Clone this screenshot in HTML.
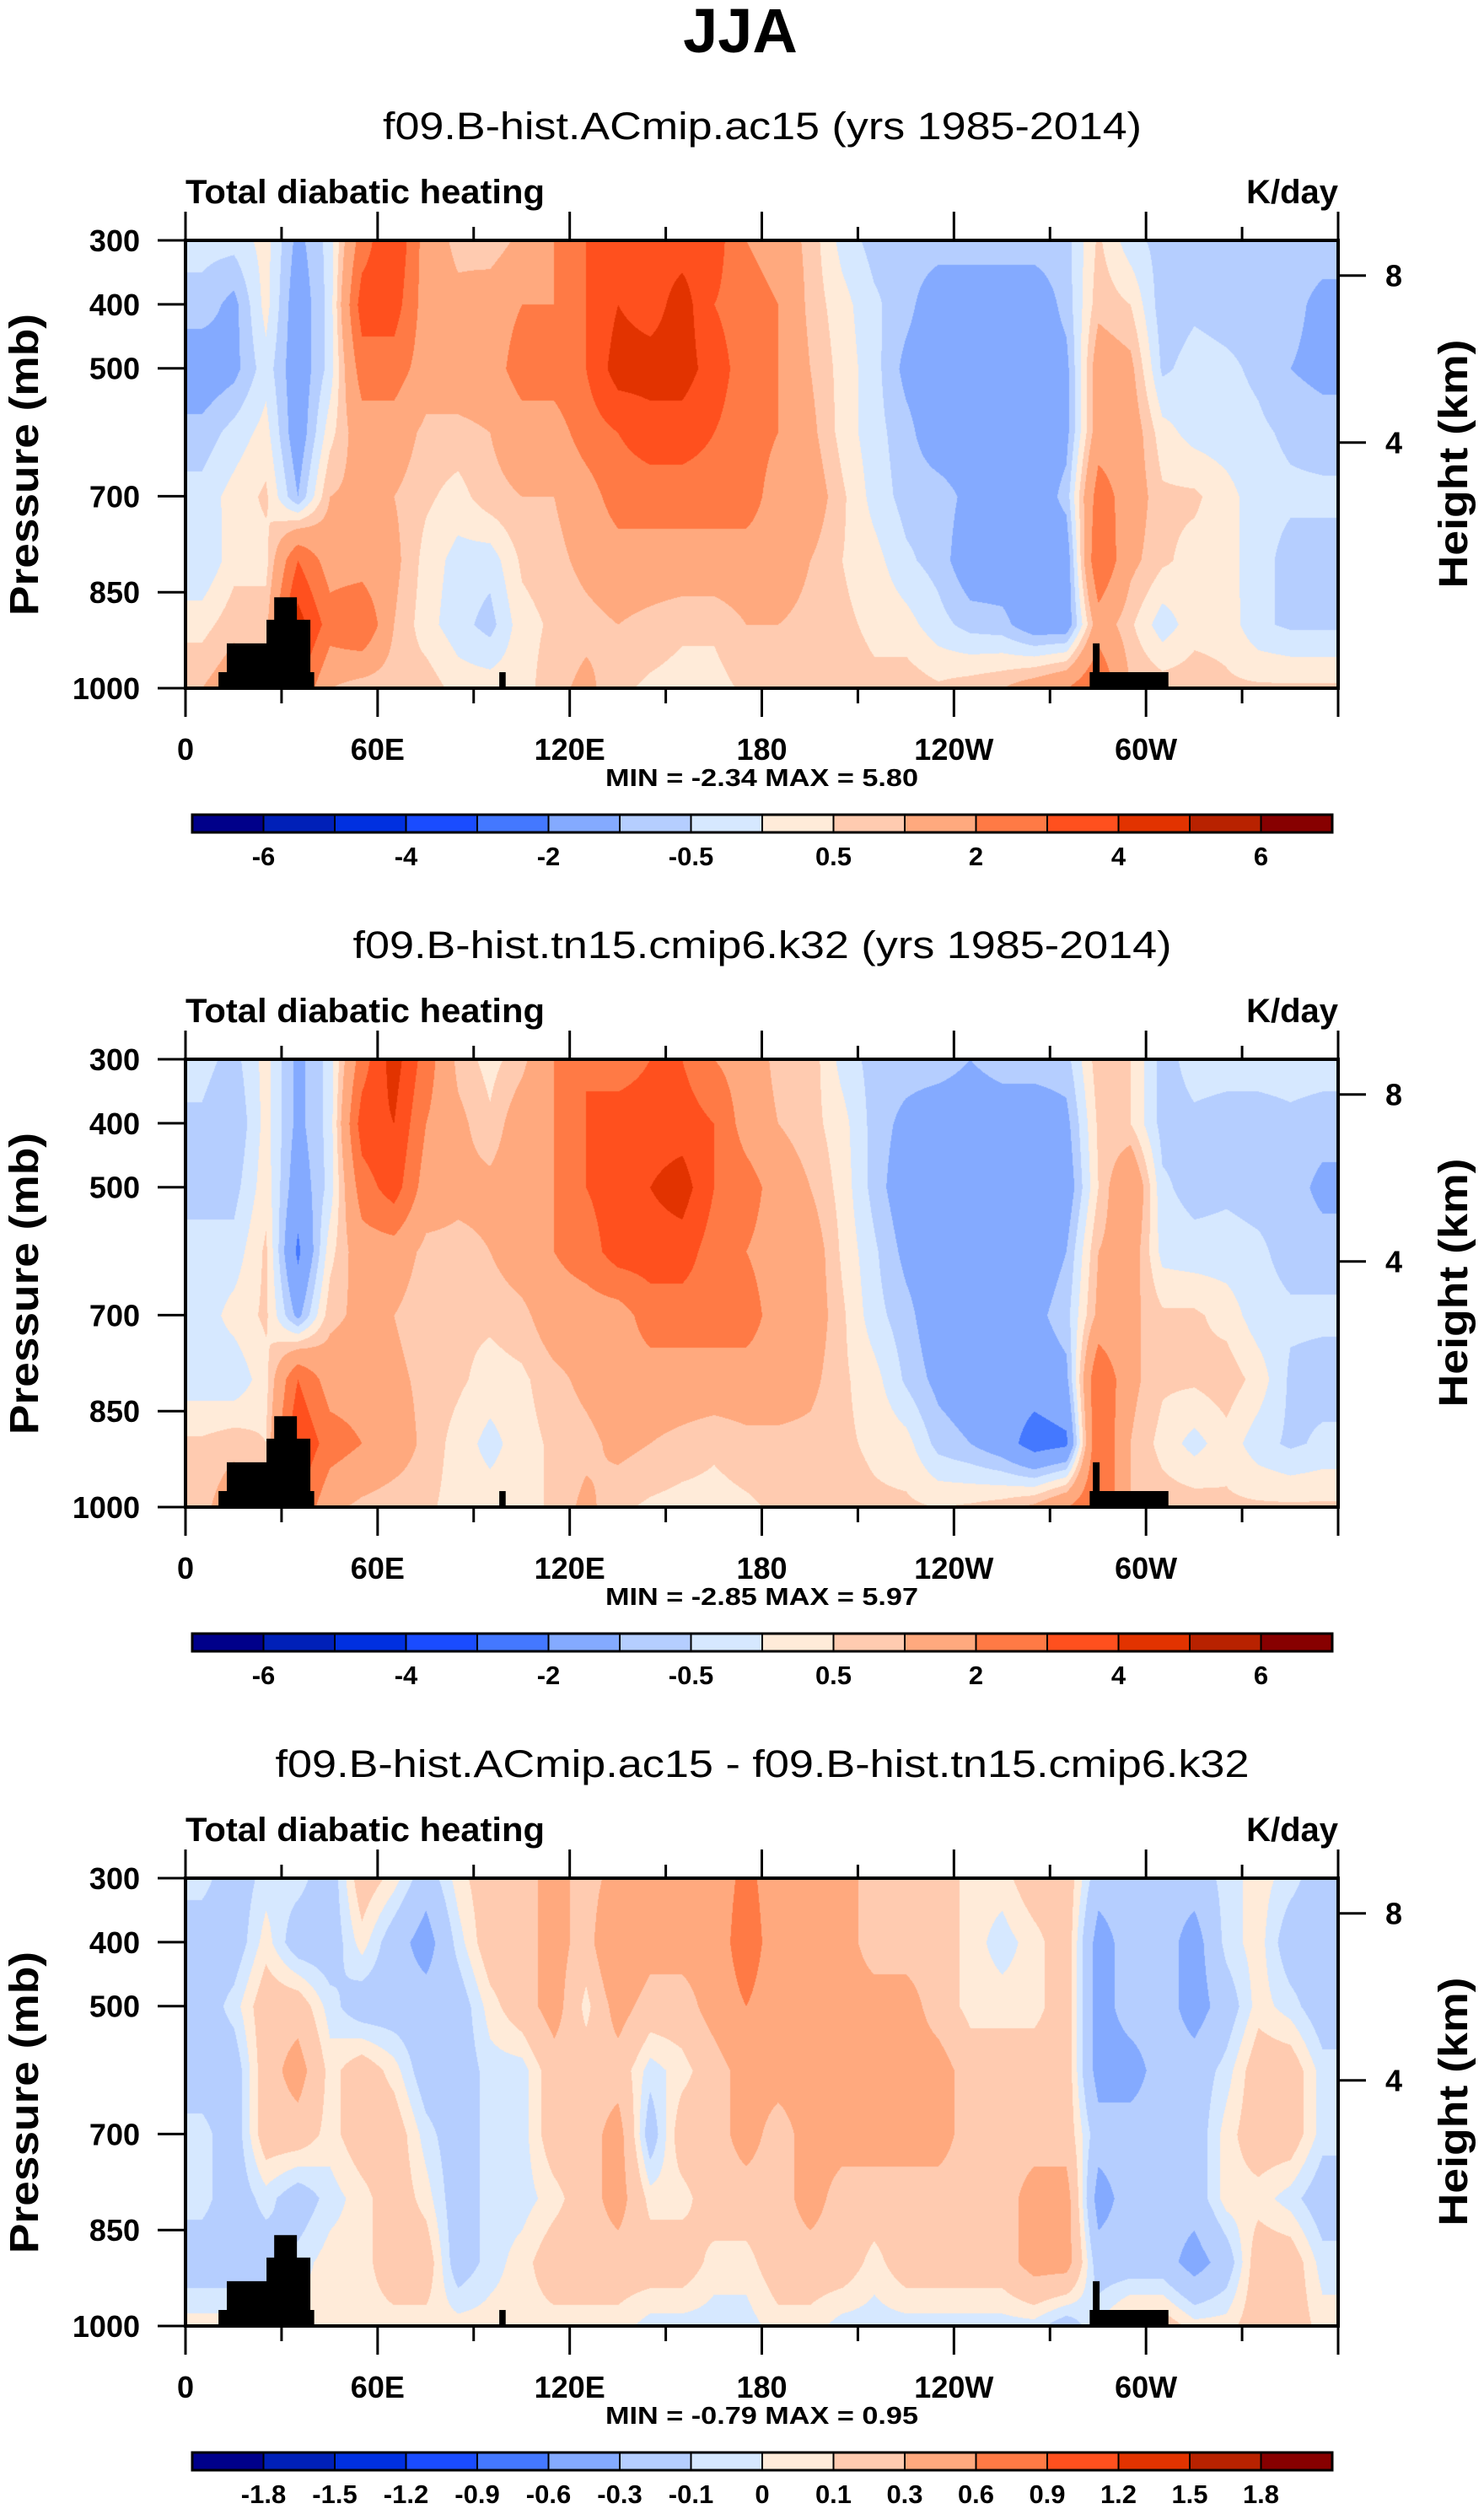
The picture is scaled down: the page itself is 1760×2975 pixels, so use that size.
<!DOCTYPE html>
<html><head><meta charset="utf-8">
<style>
body{margin:0;background:#fff;}
#wrap{position:relative;width:1760px;height:2975px;overflow:hidden;background:#fff;}
canvas{position:absolute;}
svg{position:absolute;left:0;top:0;}
text{font-family:"Liberation Sans",sans-serif;}
</style></head>
<body>
<div id="wrap">
<canvas id="c0" width="1367" height="531" style="left:220px;top:285px"></canvas>
<canvas id="c1" width="1367" height="531" style="left:220px;top:1256px"></canvas>
<canvas id="c2" width="1367" height="531" style="left:220px;top:2227px"></canvas>
<svg id="ov" width="1760" height="2975">
<text x="878" y="62" text-anchor="middle" font-size="74" font-weight="bold">JJA</text>
</svg>
</div>
<script>
// ---- data ----
const lons=[5,15,25,35,45,55,65,75,85,95,105,115,125,135,145,155,165,175,185,195,205,215,225,235,245,255,265,275,285,295,305,315,325,335,345,355];
const levs=[300,400,500,600,700,800,900,1000];
const field1=[
[-0.3,-0.7,-1.5,-0.8,-0.3,-0.5,0.3,1],[-0.3,-1.2,-1.2,-0.3,0.2,0.3,0.8,1.5],[0.2,0.2,-0.2,0.2,0.6,0.3,0.8,1],[-1.2,-1.5,-1.5,-1.5,-1,3,4.5,3],
[-0.3,-0.3,-0.3,0.3,1,1.5,2.5,1],[2.5,3.5,2.5,1.5,1.2,1.5,3,0.6],[4,3.5,2.5,1.5,1,1.2,1,0.6],[1.5,1.5,1.5,0.8,0.6,0.3,0.2,0.8],
[0.8,1.2,1.5,0.8,0.3,-0.2,-0.3,0.3],[0.6,1.5,1.5,1,0.8,-0.3,-0.7,0.3],[1.2,2,2.5,1.5,1,0.6,0.3,0.3],[2,2,2.5,1.5,1,0.8,0.6,0.8],
[3,3,3,2.5,1.5,1.2,0.8,1.2],[3.5,4,4.5,3,2.5,1.5,1,0.6],[3.5,3.5,4.5,3.5,2.5,1.5,0.8,0.4],[3.5,4.5,4.5,3.5,2.5,1.5,0.6,0.3],
[3.5,3,3.5,3,2.5,1.5,0.6,0.3],[2,2.5,2.5,2.5,2.5,1.5,1,0.6],[1.5,2,2,2,1.5,1.5,1,0.6],[0.8,0.8,1,1.2,1.5,1,0.8,0.6],
[-0.2,0.2,0.3,0.3,0.6,0.5,0.6,0.7],[-0.7,-0.4,-0.3,-0.3,-0.2,0.2,0.4,0.6],[-0.7,-0.8,-1.2,-0.8,-0.7,-0.4,0.2,0.8],[-0.7,-1.5,-1.5,-1.5,-0.7,-0.7,-0.3,0.6],
[-0.7,-1.5,-1.5,-1.5,-1.2,-1.5,-0.7,0.8],[-0.7,-1.5,-1.5,-1.5,-1.5,-1.5,-0.8,1],[-0.7,-1.5,-1.5,-1.5,-1.5,-1.5,-1.5,1.5],[-0.7,-0.8,-1.2,-1.2,-0.8,-1.5,-1.5,2],
[0.6,0.8,1.5,1.5,2.5,3,1.5,3],[-0.3,0.5,1.2,1.5,1.5,1.2,0.6,1],[-0.7,-0.8,-0.6,0.2,0.6,0.6,-0.3,0.8],[-0.6,-0.6,-0.3,-0.2,0.6,0.3,0.3,0.8],
[-0.7,-0.7,-0.4,-0.3,0.2,0.2,0.3,0.6],[-0.7,-0.7,-0.6,-0.4,-0.3,-0.3,-0.4,0.6],[-0.7,-0.8,-1,-0.6,-0.4,-0.7,-0.6,0.6],[-0.7,-1.2,-1.2,-0.7,-0.4,-0.7,-0.6,0.6]];
const field2=[
[-0.3,-0.6,-0.7,-0.3,-0.3,-0.3,0.6,0.8],[-0.7,-1,-0.7,-0.3,0.2,-0.4,0.8,1.5],[0.2,0.2,0.3,0.6,0.6,0.3,0.5,1],[-1.2,-1.2,-1.5,-2.2,-1.2,3,4,3],
[-0.3,-0.3,-0.3,0.3,0.8,1.5,2.5,1.2],[2.5,3.5,2.5,1.5,1.2,1.5,2,0.8],[4.5,4,3.5,1.5,1,1.2,1.5,0.6],[2.5,2,1.5,0.8,0.6,0.8,0.8,0.6],
[0.8,1.2,1.2,0.8,0.6,0.6,0.3,0.3],[0.3,0.6,1.2,1,0.6,0.3,-0.2,0.3],[0.8,1.5,1.5,1.5,0.8,0.4,0.3,0.3],[2,2,2,2,1.5,0.8,0.6,0.6],
[3,3,3,2.5,1.5,1.2,0.8,1.2],[2.5,3.5,3.5,3.5,1.5,1.5,1.2,0.6],[3,3.5,4,3.5,2.5,1.5,1,0.4],[3,3.5,4.5,3.5,2.5,1.5,0.8,0.3],
[2,3,3,2.5,2.5,1.5,0.6,0.3],[1.5,1.5,2.5,2,2.5,1.5,0.8,0.4],[0.8,1,1.5,1.5,1.5,1.5,0.8,0.6],[0.8,0.7,1,1.5,1.5,1.2,0.8,0.6],
[-0.2,0.2,0.3,0.4,0.6,0.6,0.6,0.7],[-0.7,-0.7,-0.7,-0.4,-0.3,0.2,0.4,0.6],[-0.7,-1.2,-1.5,-1.2,-0.8,-0.6,0.2,0.6],[-0.7,-1.5,-1.5,-1.5,-1.5,-1.2,-0.7,0.5],
[-1,-1.5,-1.5,-1.5,-1.5,-1.5,-1,0.6],[-0.7,-1.5,-1.5,-1.5,-1.5,-1.5,-1.5,0.8],[-0.7,-1.5,-1.5,-1.5,-1.2,-1.5,-2.5,1.2],[-0.7,-1.2,-1.5,-1,-0.7,-1.2,-2.2,2],
[0.8,0.6,0.5,1,1.2,3,3,3],[0.5,0.5,2,1.5,1.2,1.2,1,1],[-0.7,-0.7,-0.4,-0.2,0.6,0.6,0.3,0.8],[-0.3,-0.6,-0.7,-0.3,0.6,0.6,-0.2,0.8],
[-0.3,-0.7,-0.6,-0.3,0.3,0.8,0.3,0.6],[-0.3,-0.7,-0.7,-0.4,-0.3,0.3,-0.3,0.6],[-0.3,-0.6,-0.7,-0.7,-0.4,-0.6,-0.6,0.6],[-0.3,-0.7,-1.2,-0.7,-0.4,-0.7,-0.4,0.6]];
const field3=[
[-0.05,-0.2,-0.2,-0.2,-0.05,-0.05,-0.2,0.05],[-0.2,-0.2,-0.05,-0.2,-0.2,-0.2,-0.2,0.05],[-0.05,0.05,0.2,0.2,0.2,-0.05,-0.2,0.05],[-0.05,-0.2,0.2,0.4,0.2,-0.2,-0.05,0.05],
[-0.2,-0.2,-0.05,0.05,0.05,-0.05,0.05,0.05],[0.2,0.05,-0.2,0.2,0.2,0.05,0.05,0.05],[0.05,-0.2,-0.2,0.05,0.2,0.2,0.2,0.05],[-0.2,-0.4,-0.2,-0.2,-0.05,0.05,0.2,0.05],
[0.05,-0.05,-0.2,-0.2,-0.2,-0.2,-0.2,0.05],[0.2,0.2,0.05,-0.05,-0.05,-0.05,-0.05,0.05],[0.2,0.2,0.2,-0.05,-0.05,-0.05,0.05,0.05],[0.4,0.4,0.4,0.2,0.2,0.05,0.2,0.05],
[0.2,0.2,0.05,0.2,0.2,0.2,0.2,0.05],[0.4,0.6,0.4,0.2,0.4,0.4,0.2,0.05],[0.4,0.4,0.2,-0.05,-0.2,0.05,0.2,-0.05],[0.4,0.4,0.2,0.05,0.2,0.05,0.2,-0.05],
[0.4,0.4,0.4,0.2,0.2,0.2,0.05,-0.05],[0.7,0.8,0.6,0.4,0.4,0.2,0.05,-0.05],[0.4,0.4,0.4,0.4,0.2,0.2,0.2,0.05],[0.4,0.4,0.4,0.4,0.4,0.4,0.2,0.05],
[0.4,0.4,0.4,0.4,0.4,0.2,0.2,-0.05],[0.2,0.2,0.4,0.4,0.4,0.2,0.05,-0.05],[0.2,0.2,0.4,0.4,0.4,0.2,0.2,-0.05],[0.2,0.2,0.2,0.4,0.4,0.2,0.2,-0.05],
[0.05,0.05,0.05,0.2,0.2,0.2,0.2,-0.05],[0.05,-0.05,0.05,0.2,0.2,0.2,0.2,-0.05],[0.2,0.05,0.05,0.2,0.2,0.4,0.4,-0.05],[0.2,0.2,0.2,0.2,0.2,0.4,0.4,-0.2],
[-0.2,-0.4,-0.4,-0.4,-0.2,-0.4,-0.2,0],[-0.2,-0.2,-0.2,-0.4,-0.2,-0.2,-0.2,0.2],[-0.2,-0.2,-0.2,-0.2,-0.2,-0.2,-0.2,0.2],[-0.2,-0.4,-0.4,-0.2,-0.2,-0.2,-0.4,0.05],
[-0.05,-0.05,-0.2,-0.05,0.05,0.05,-0.2,0.05],[0.05,0.05,0.05,0.2,0.2,0.05,0.2,0.2],[-0.05,-0.2,-0.05,0.2,0.2,-0.05,0.2,0.2],[-0.2,-0.2,-0.2,-0.05,-0.05,-0.2,-0.05,0.05]];
const levels12=[-6,-5,-4,-3,-2,-1,-0.5,0,0.5,1,2,3,4,5,6];
const labels12=["-6","-4","-2","-0.5","0.5","2","4","6"];
const levels3=[-1.8,-1.5,-1.2,-0.9,-0.6,-0.3,-0.1,0,0.1,0.3,0.6,0.9,1.2,1.5,1.8];
const labels3=["-1.8","-1.5","-1.2","-0.9","-0.6","-0.3","-0.1","0","0.1","0.3","0.6","0.9","1.2","1.5","1.8"];
const colors=["#00008a","#0020b8","#0030e0","#1a4cff","#4478ff","#84aaff","#b5ceff","#d6e8ff","#ffebd9","#ffcbb0","#ffa97e","#ff7a45","#ff501e","#e23300","#b82200","#870000"];
const subtitles=["f09.B-hist.ACmip.ac15 (yrs 1985-2014)","f09.B-hist.tn15.cmip6.k32 (yrs 1985-2014)","f09.B-hist.ACmip.ac15 - f09.B-hist.tn15.cmip6.k32"];
const subtitleWidths=[900,971,1155];
const minmax=["MIN =  -2.34  MAX =   5.80","MIN =  -2.85  MAX =   5.97","MIN =  -0.79  MAX =   0.95"];
const lonTicks=[0,60,120,180,240,300];
const lonTickLabels=["0","60E","120E","180","120W","60W"];
const presTicks=[300,400,500,700,850,1000];
const heightTicks=["8","4"];
const heightP=[355,616];
const topoAfrica=[[10.3,1000],[10.3,975],[12.9,975],[12.9,930],[25.3,930],[25.3,893],[27.7,893],[27.7,858],[34.8,858],[34.8,893],[39,893],[39,975],[40.2,975],[40.2,1000]];
const topoSpike=[[98,1000],[98,975],[100,975],[100,1000]];
const topoAndes=[[282.4,1000],[282.4,975],[283.4,975],[283.4,930],[285.5,930],[285.5,975],[307,975],[307,1000]];

const X0=220,W=1367,Y0=285,H=531,OFF=[0,971,1942];
function xs(lon){return X0+lon/360*W;}
function ys(p,o){return Y0+o+(p-300)/700*H;}
function hex(c){return [parseInt(c.substr(1,2),16),parseInt(c.substr(3,2),16),parseInt(c.substr(5,2),16)];}
function sample(f,lon,p){
  let fx=(lon-lons[0])/10; if(fx<0)fx=0; if(fx>lons.length-1)fx=lons.length-1;
  let i=Math.min(Math.floor(fx),lons.length-2),tx=fx-i;
  let fy=(p-levs[0])/100; if(fy<0)fy=0; if(fy>levs.length-1)fy=levs.length-1;
  let j=Math.min(Math.floor(fy),levs.length-2),ty=fy-j;
  const a=f[i][j],b=f[i+1][j],c=f[i][j+1],d=f[i+1][j+1];
  return (a*(1-tx)+b*tx)*(1-ty)+(c*(1-tx)+d*tx)*ty;
}
function drawField(id,f,lv){
  const cv=document.getElementById(id),ctx=cv.getContext('2d');
  const img=ctx.createImageData(W,H),rgb=colors.map(hex);
  for(let y=0;y<H;y++){const p=300+y/H*700;
    for(let x=0;x<W;x++){const lon=x/W*360;const v=sample(f,lon,p);
      let k=0;while(k<lv.length&&v>=lv[k])k++;const c=rgb[k];const q=(y*W+x)*4;
      img.data[q]=c[0];img.data[q+1]=c[1];img.data[q+2]=c[2];img.data[q+3]=255;}}
  ctx.putImageData(img,0,0);
}
drawField('c0',field1,levels12);drawField('c1',field2,levels12);drawField('c2',field3,levels3);

const NS='http://www.w3.org/2000/svg',svg=document.getElementById('ov');
function el(tag,attrs,txt){const e=document.createElementNS(NS,tag);for(const k in attrs)e.setAttribute(k,attrs[k]);if(txt!==undefined)e.textContent=txt;svg.appendChild(e);return e;}
for(let k=0;k<3;k++){const o=OFF[k];
  let e=el('text',{x:904,y:165+o,'text-anchor':'middle','font-size':45,textLength:subtitleWidths[k],lengthAdjust:'spacingAndGlyphs'},subtitles[k]);
  
  
  e=el('text',{x:220,y:241+o,'font-size':40,'font-weight':'bold',textLength:426,lengthAdjust:'spacingAndGlyphs'},'Total diabatic heating');
  
  
  e=el('text',{x:1587,y:241+o,'font-size':40,'font-weight':'bold','text-anchor':'end'},'K/day');
  
  
  [topoAfrica,topoSpike,topoAndes].forEach(t=>{
    e=el('polygon',{points:t.map(q=>xs(q[0])+','+ys(q[1],o)).join(' '),fill:'#000'});
    
    
  });
  e=el('rect',{x:X0,y:Y0+o,width:W,height:H,fill:'none',stroke:'#000','stroke-width':4});
  
  
  for(let L=0;L<=360;L+=30){const maj=L%60===0;const x=xs(L);
    e=el('line',{x1:x,x2:x,y1:Y0+o,y2:Y0+o-(maj?34:16),stroke:'#000','stroke-width':3});
    
    
    e=el('line',{x1:x,x2:x,y1:Y0+H+o,y2:Y0+H+o+(maj?34:18),stroke:'#000','stroke-width':3});
    
    }
  lonTicks.forEach((L,i)=>{e=el('text',{x:xs(L),y:901+o,'text-anchor':'middle','font-size':36,'font-weight':'bold'},lonTickLabels[i]);
    
    });
  presTicks.forEach(p=>{const y=ys(p,o);
    e=el('line',{x1:187,x2:X0,y1:y,y2:y,stroke:'#000','stroke-width':3});
    
    
    e=el('text',{x:166,y:y+13,'text-anchor':'end','font-size':36,'font-weight':'bold'},String(p));
    
    });
  heightTicks.forEach((h,i)=>{const y=ys(heightP[i],o);
    e=el('line',{x1:X0+W,x2:1620,y1:y,y2:y,stroke:'#000','stroke-width':3});
    
    
    e=el('text',{x:1643,y:y+13,'font-size':36,'font-weight':'bold'},h);
    
    });
  e=el('text',{x:0,y:0,'font-size':48,'font-weight':'bold','text-anchor':'middle',transform:'translate(45,'+(551+o)+') rotate(-90)',textLength:358,lengthAdjust:'spacingAndGlyphs'},'Pressure (mb)');
  
  
  e=el('text',{x:0,y:0,'font-size':48,'font-weight':'bold','text-anchor':'middle',transform:'translate(1740,'+(550+o)+') rotate(-90)',textLength:295,lengthAdjust:'spacingAndGlyphs'},'Height (km)');
  
  
  e=el('text',{x:718,y:932+o,'font-size':29,'font-weight':'bold',textLength:371,lengthAdjust:'spacingAndGlyphs'},minmax[k]);
  
  
  const cbx=228,cbw=1352/16,cby=966+o;
  for(let i=0;i<16;i++){e=el('rect',{x:cbx+i*cbw,y:cby,width:cbw,height:21,fill:colors[i],stroke:'#000','stroke-width':2});
    
    }
  e=el('rect',{x:cbx,y:cby,width:1352,height:21,fill:'none',stroke:'#000','stroke-width':3});
  
  
  const labs=k<2?labels12:labels3;const step=k<2?2:1;
  labs.forEach((t,i)=>{const b=i*step;
    e=el('text',{x:cbx+(b+1)*cbw,y:1026+o,'text-anchor':'middle','font-size':31,'font-weight':'bold'},t);
    
    });
}
</script>
</body></html>
